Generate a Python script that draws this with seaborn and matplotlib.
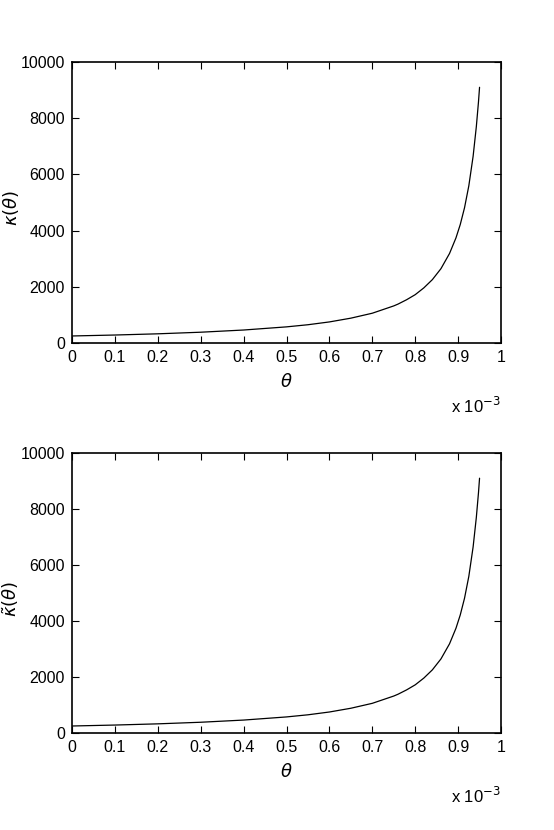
import pandas as pd
import matplotlib.pyplot as plt
import seaborn as sns

# valores (theta en unidades de 1e-3)
theta = [0.0, 0.1, 0.2, 0.3, 0.4, 0.5, 0.55, 0.6, 0.65, 0.7, 0.75, 0.76, 0.78, 0.8,
         0.82, 0.84, 0.86, 0.88, 0.895, 0.905, 0.915, 0.925, 0.935, 0.9425, 0.9475, 0.95]
kappa = [250, 284, 327, 384, 462, 574, 650, 750, 884, 1060, 1320, 1385, 1540, 1720,
         1960, 2255, 2645, 3185, 3740, 4215, 4815, 5595, 6645, 7700, 8580, 9100]
kappa_tilde = [250, 284, 327, 384, 462, 574, 650, 750, 884, 1060, 1320, 1385, 1540, 1720,
               1960, 2255, 2645, 3185, 3740, 4215, 4815, 5595, 6645, 7700, 8580, 9100]
xticks = [0, 0.1, 0.2, 0.3, 0.4, 0.5, 0.6, 0.7, 0.8, 0.9, 1]
xticklabels = ['0', '0.1', '0.2', '0.3', '0.4', '0.5', '0.6', '0.7', '0.8', '0.9', '1']
yticks = [0, 2000, 4000, 6000, 8000, 10000]

sns.set_style('ticks')
plt.rcParams['font.family'] = ['Liberation Sans Narrow', 'Liberation Sans', 'DejaVu Sans']
plt.rcParams['xtick.direction'] = 'in'
plt.rcParams['ytick.direction'] = 'in'
plt.rcParams['text.color'] = 'black'
plt.rcParams['axes.labelcolor'] = 'black'
plt.rcParams['xtick.color'] = 'black'
plt.rcParams['ytick.color'] = 'black'
plt.rcParams['axes.edgecolor'] = 'black'

df = pd.DataFrame({'theta': theta, 'kappa': kappa, 'kappa_tilde': kappa_tilde})

fig = plt.figure(figsize=(5.54, 8.30), dpi=100)
ax1 = fig.add_axes([72 / 554, 1 - 343 / 830, 429 / 554, 281 / 830])
ax2 = fig.add_axes([72 / 554, 1 - 733 / 830, 429 / 554, 280 / 830])

for ax, col, lab in [(ax1, 'kappa', r'$\kappa(\theta)$'), (ax2, 'kappa_tilde', r'$\tilde{\kappa}(\theta)$')]:
    sns.lineplot(data=df, x='theta', y=col, ax=ax, color='black', linewidth=0.9)
    ax.set_xlim(0, 1)
    ax.set_ylim(0, 10000)
    ax.set_xticks(xticks)
    ax.set_xticklabels(xticklabels)
    ax.set_yticks(yticks)
    ax.set_yticklabels([str(v) for v in yticks])
    ax.tick_params(top=True, right=True, labelsize=11.5, length=5, width=0.8, pad=5)
    for s in ax.spines.values():
        s.set_linewidth(1.2)
    ax.set_xlabel(r'$\theta$', fontsize=13, labelpad=6)
    ax.set_ylabel(lab, fontsize=13)
    ax.yaxis.set_label_coords(-0.12, 0.48)
    ax.text(1.0, -0.225, r'x 10$^{-3}$', transform=ax.transAxes, ha='right', va='center', fontsize=12)

fig.savefig('out.png', dpi=100)
